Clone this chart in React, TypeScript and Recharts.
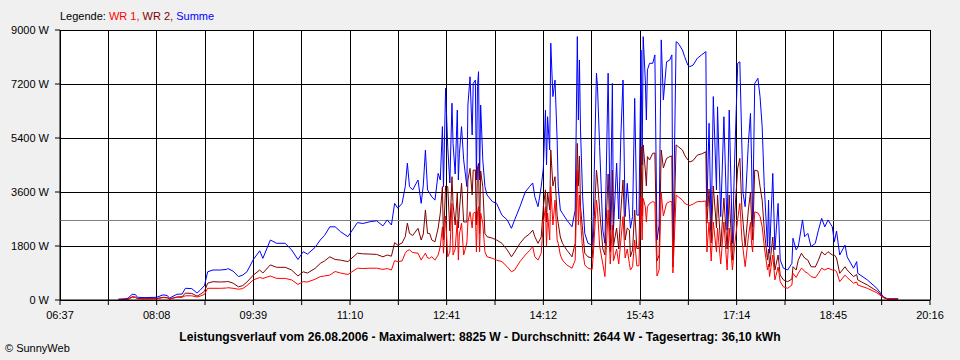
import React from 'react';
import { LineChart, Line, XAxis, YAxis, CartesianGrid, ReferenceLine } from 'recharts';

// time in minutes since midnight
const minutes = [
  452, 458, 461, 465, 468, 470, 477, 488, 494, 498, 500, 507, 512, 515, 521, 526, 529, 533, 536, 541,
  548, 554, 555, 560, 565, 569, 573, 579, 585, 588, 595, 601, 609, 615, 621, 626, 630, 637, 642, 646,
  651, 656, 661, 668, 677, 682, 689, 695, 701, 705, 709, 712, 715, 719, 722, 724, 726, 729, 734, 737,
  739, 741, 743, 745, 747, 750, 753, 755, 757, 758, 760, 762, 764, 766, 767, 769, 771, 772, 773, 775,
  777, 780, 781, 783, 785, 786, 788, 789, 790, 791, 792, 793, 795, 797, 799, 804, 808, 813, 818, 822,
  825, 830, 835, 839, 842, 844, 847, 850, 852, 854, 855, 856, 858, 859, 861, 863, 865, 866, 868, 870,
  874, 879, 882, 884, 885, 886, 887, 889, 891, 894, 898, 899, 902, 903, 905, 908, 910, 913, 915, 917,
  918, 921, 923, 925, 927, 929, 931, 933, 934, 936, 938, 940, 942, 944, 945, 946, 948, 949, 950, 952,
  955, 957, 959, 961, 963, 965, 968, 971, 973, 974, 977, 979, 983, 985, 988, 990, 993, 997, 1001, 1005,
  1006, 1008, 1010, 1012, 1015, 1016, 1019, 1022, 1025, 1027, 1030, 1032, 1035, 1037, 1039, 1040, 1042, 1045, 1047, 1048,
  1049, 1051, 1054, 1056, 1058, 1060, 1063, 1064, 1065, 1068, 1070, 1073, 1075, 1078, 1082, 1086, 1087, 1090, 1092, 1095,
  1096, 1098, 1101, 1104, 1108, 1111, 1114, 1117, 1120, 1124, 1126, 1128, 1131, 1136, 1138, 1144, 1147, 1148, 1157, 1166,
  1172, 1176, 1186,
];

const summe = [
  30, 40, 60, 190, 180, 90, 80, 90, 170, 150, 60, 190, 200, 390, 380, 230, 330, 480, 940, 1000,
  1000, 1020, 1050, 960, 780, 830, 940, 1350, 1640, 1390, 2000, 1890, 1890, 1670, 1350, 1610, 1530, 1750, 2000, 2150,
  2440, 2440, 2280, 2110, 2580, 2550, 2610, 2640, 2470, 2670, 2500, 3220, 3060, 3220, 3780, 4560, 3780, 3670, 4000, 3220,
  3830, 5000, 3670, 3560, 3440, 3330, 4220, 4000, 5780, 3780, 7060, 5110, 3900, 6560, 5220, 4200, 6330, 4000, 4890, 5780,
  4670, 3780, 6500, 7440, 5500, 7220, 7330, 4000, 7110, 7610, 4000, 6500, 4670, 3780, 3500, 3280, 3220, 2830, 2670, 2390,
  2670, 3110, 3600, 3780, 3900, 3440, 3110, 3780, 4390, 6330, 4500, 6110, 5000, 8560, 6780, 7330, 5330, 3780, 3000, 2890,
  2670, 2440, 3000, 8780, 6000, 8000, 5670, 3440, 2220, 1890, 1830, 2780, 7560, 7110, 5110, 2330, 1890, 7560, 2330, 7220,
  2330, 4560, 2700, 5500, 7330, 2780, 3890, 2890, 2390, 2780, 6720, 2830, 2830, 8330, 4500, 8780, 7330, 6000, 7670, 7890,
  7890, 8170, 2000, 2500, 8670, 6670, 7940, 8000, 8170, 1400, 8610, 8560, 8330, 8110, 7830, 7780, 7830, 8060, 8170, 8280,
  3110, 5890, 2330, 6780, 3670, 6440, 2780, 6110, 2330, 6330, 1890, 4560, 7890, 7940, 5000, 3560, 3110, 5220, 6220, 4670,
  2440, 7220, 7390, 6780, 5780, 3780, 1780, 3330, 1560, 4220, 1670, 3220, 1330, 1060, 1000, 1220, 2060, 1670, 1780, 2440,
  2670, 2110, 2220, 1780, 1890, 2330, 2720, 2440, 2670, 2440, 1940, 2300, 1500, 1830, 1440, 1060, 1280, 890, 670, 390,
  110, 40, 40,
];

const wr2 = [
  15, 20, 30, 110, 100, 50, 45, 50, 90, 80, 35, 100, 110, 230, 220, 130, 190, 290, 560, 610,
  600, 610, 620, 560, 440, 480, 600, 830, 1000, 900, 1170, 1090, 1090, 1000, 800, 940, 900, 1050, 1220, 1300,
  1440, 1350, 1330, 1280, 1560, 1540, 1530, 1520, 1440, 1500, 1460, 1910, 1830, 1900, 2110, 2560, 2220, 2150, 2390, 2000,
  2200, 3000, 2220, 2220, 2000, 1940, 2400, 2890, 3780, 2000, 3800, 3780, 2300, 4110, 3200, 2500, 3560, 2400, 3000, 3890,
  2600, 2600, 4000, 4390, 3500, 4330, 4330, 2500, 4400, 4560, 2200, 4300, 3780, 2220, 2110, 2060, 2000, 1890, 1670, 1440,
  1600, 1890, 2100, 2200, 2330, 2110, 1890, 2100, 3110, 3670, 2600, 3600, 3000, 5000, 3800, 4110, 2800, 2560, 2100, 1890,
  1670, 1440, 1890, 5220, 3800, 4800, 3110, 2330, 1560, 1440, 1400, 2000, 4330, 4000, 3000, 1700, 1500, 4200, 1600, 4330,
  1800, 2400, 1700, 3000, 4000, 2000, 2400, 2330, 1440, 1670, 3000, 1720, 1720, 5110, 2800, 5170, 4330, 3800, 4780, 4670,
  4890, 4900, 1300, 1500, 5000, 4400, 4720, 4780, 4800, 1100, 5170, 5110, 5000, 4830, 4670, 4600, 4650, 4830, 4870, 4940,
  2560, 3700, 1900, 3800, 2400, 3500, 1800, 3400, 1700, 3500, 1330, 2800, 4400, 4720, 3000, 2600, 1780, 3000, 3600, 2700,
  2000, 4330, 4300, 3780, 3330, 2330, 1330, 1700, 1110, 2100, 1000, 1500, 830, 670, 610, 700, 1110, 1000, 1330, 1560,
  1500, 1400, 1330, 1110, 1100, 1330, 1610, 1500, 1610, 1500, 1500, 1400, 890, 1110, 1000, 780, 850, 670, 500, 300,
  90, 30, 30,
];

const wr1 = [
  15, 20, 25, 90, 80, 40, 35, 40, 80, 70, 30, 90, 90, 140, 140, 100, 130, 190, 390, 390,
  390, 400, 410, 390, 360, 380, 480, 670, 750, 720, 800, 720, 720, 670, 520, 610, 600, 690, 780, 800,
  830, 950, 900, 850, 1060, 1050, 1060, 1060, 1020, 1050, 1000, 1310, 1280, 1300, 1560, 1650, 1670, 1580, 1560, 1330,
  1450, 1560, 1400, 1390, 1440, 1330, 1500, 1780, 2440, 1560, 2800, 1440, 1600, 3220, 1500, 1700, 2670, 1330, 2200, 2560,
  1500, 1900, 2600, 2940, 2400, 2890, 2940, 1600, 2900, 3110, 1610, 2900, 2560, 1610, 1440, 1390, 1330, 1280, 1110, 940,
  1000, 1280, 1500, 1650, 1780, 1440, 1330, 1560, 2560, 3110, 1800, 2900, 2000, 3780, 2500, 3330, 2000, 1890, 1500, 1330,
  1170, 1060, 1330, 4330, 2500, 3500, 2670, 1670, 1170, 1060, 1020, 1500, 3330, 3000, 1800, 1200, 780, 3000, 1200, 2500,
  1300, 1700, 1200, 2000, 2780, 1400, 1700, 1220, 1000, 1110, 2000, 1140, 1140, 3440, 2000, 3390, 3110, 2600, 3110, 3220,
  3280, 3250, 800, 1000, 3560, 2800, 3220, 3280, 3280, 900, 3500, 3440, 3330, 3220, 3170, 3150, 3200, 3280, 3280, 3300,
  1600, 2600, 1300, 2600, 1600, 2400, 1200, 2600, 1000, 2400, 1000, 1800, 2700, 3220, 2000, 1700, 1110, 2100, 2600, 1900,
  1600, 2940, 2900, 2780, 2440, 1780, 1000, 1200, 780, 1500, 670, 1100, 610, 440, 390, 500, 890, 750, 890, 1060,
  1040, 950, 890, 780, 740, 890, 1060, 1000, 1060, 1000, 1000, 950, 610, 830, 750, 560, 600, 500, 390, 240,
  80, 30, 30,
];

const xTicks = [
  397, 442.5, 488, 533.5, 579, 624.5, 670, 715.5, 761, 806.5,
  852, 897.5, 943, 988.5, 1034, 1079.5, 1125, 1170.5, 1216,
];
const yTicks = [0, 1800, 3600, 5400, 7200, 9000];
const average = 2644;

const titleText =
  'Leistungsverlauf vom 26.08.2006 - Maximalwert: 8825 W - Durchschnitt: 2644 W - Tagesertrag: 36,10 kWh';

const data = minutes.map((m, i) => ({ t: m, wr1: wr1[i], wr2: wr2[i], summe: summe[i] }));

const fmtTime = (m: number) => {
  if (!Number.isInteger(m)) return '';
  const h = Math.floor(m / 60);
  const mm = m % 60;
  return `${String(h).padStart(2, '0')}:${String(mm).padStart(2, '0')}`;
};

const FONT = '"Liberation Sans", Arial, sans-serif';

export default function App() {
  return (
    <div
      style={{
        position: 'absolute',
        left: 0,
        top: 0,
        width: 960,
        height: 360,
        background: '#f0f0f0',
        fontFamily: FONT,
        overflow: 'hidden',
      }}
    >
      <div style={{ position: 'absolute', left: 60, top: 10, fontSize: 11, lineHeight: '13px', whiteSpace: 'nowrap' }}>
        <span style={{ color: '#000' }}>Legende: </span>
        <span style={{ color: '#ff0000' }}>WR 1, </span>
        <span style={{ color: '#800000' }}>WR 2, </span>
        <span style={{ color: '#0000ff' }}>Summe</span>
      </div>
      <LineChart
        width={960}
        height={360}
        data={data}
        margin={{ top: 30, right: 30, bottom: 0, left: 0 }}
        style={{ position: 'absolute', left: 0, top: 0 }}
      >
        <CartesianGrid stroke="#000" strokeWidth={1} fill="#ffffff" fillOpacity={1} shapeRendering="crispEdges" />
        <XAxis
          dataKey="t"
          type="number"
          domain={[397, 1216]}
          ticks={xTicks}
          interval={0}
          tickFormatter={fmtTime}
          height={60}
          tickSize={5}
          tickMargin={6}
          stroke="#000"
          tick={{ fill: '#000', fontSize: 11, fontFamily: FONT }}
          tickLine={{ stroke: '#000' }}
          axisLine={{ stroke: '#000' }}
          allowDataOverflow
        />
        <YAxis
          type="number"
          domain={[0, 9000]}
          ticks={yTicks}
          interval={0}
          width={60}
          tickSize={5}
          tickMargin={6}
          tickFormatter={(v: number) => `${v} W`}
          stroke="#000"
          tick={{ fill: '#000', fontSize: 11, fontFamily: FONT }}
          tickLine={{ stroke: '#000' }}
          axisLine={{ stroke: '#000' }}
          allowDataOverflow
        />
        <ReferenceLine y={average} stroke="#808080" strokeWidth={1} shapeRendering="crispEdges" />
        <Line type="linear" dataKey="summe" stroke="#0000ff" strokeWidth={1} dot={false} isAnimationActive={false} />
        <Line type="linear" dataKey="wr2" stroke="#800000" strokeWidth={1} dot={false} isAnimationActive={false} />
        <Line type="linear" dataKey="wr1" stroke="#ff0000" strokeWidth={1} dot={false} isAnimationActive={false} />
      </LineChart>
      <div
        style={{
          position: 'absolute',
          left: 0,
          width: 960,
          top: 330,
          textAlign: 'center',
          fontSize: 12.1,
          fontWeight: 'bold',
          lineHeight: '14px',
          whiteSpace: 'nowrap',
        }}
      >
        {titleText}
      </div>
      <div style={{ position: 'absolute', left: 5, top: 342, fontSize: 11, lineHeight: '13px', whiteSpace: 'nowrap' }}>
        © SunnyWeb
      </div>
    </div>
  );
}
